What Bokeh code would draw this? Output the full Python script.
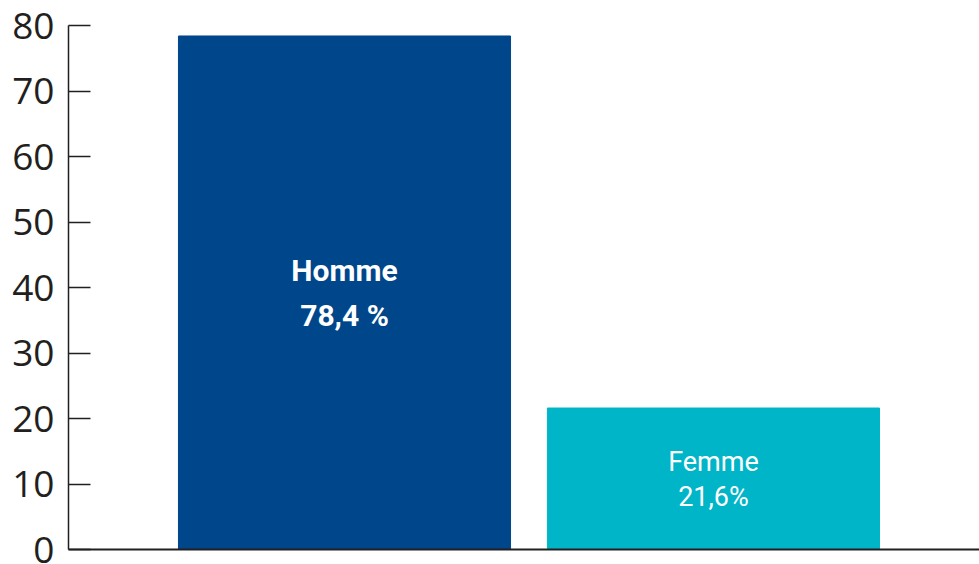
from bokeh.plotting import figure
from bokeh.models import ColumnDataSource, FixedTicker, Range1d
from bokeh.core.properties import value
from bokeh.embed import file_html
from bokeh.resources import INLINE

categories = ["Homme", "Femme"]
percent = [78.4, 21.6]
labels_pct = ["78,4 %", "21,6%"]
colors = ["#00468A", "#00B5C7"]
y_ticks = [0, 10, 20, 30, 40, 50, 60, 70, 80]

xs = [1, 2]
src = ColumnDataSource(dict(x=xs, top=percent, color=colors))

p = figure(width=979, height=564, output_backend="svg", toolbar_location=None,
           x_range=Range1d(0.252, 2.721), y_range=Range1d(0, 80),
           min_border_left=68, min_border_right=0, min_border_top=25, min_border_bottom=15)
p.outline_line_color = None
p.grid.visible = False
p.background_fill_color = "white"

p.vbar(x="x", top="top", width=0.9, bottom=0, color="color", source=src)

hs = ColumnDataSource(dict(x=[xs[0]], y=[percent[0] / 2], a=[categories[0]], b=[labels_pct[0]]))
fs = ColumnDataSource(dict(x=[xs[1]], y=[percent[1] / 2], a=[categories[1]], b=[labels_pct[1]]))
lbl_font = value("Roboto")
p.text(x="x", y="y", text="a", source=hs, text_font=lbl_font, text_font_style="bold",
       text_font_size="30px", text_color="white", text_align="center",
       text_baseline="middle", y_offset=-22)
p.text(x="x", y="y", text="b", source=hs, text_font=lbl_font, text_font_style="bold",
       text_font_size="30px", text_color="white", text_align="center",
       text_baseline="middle", y_offset=23)
p.text(x="x", y="y", text="a", source=fs, text_font=lbl_font,
       text_font_size="27px", text_color="white", text_align="center",
       text_baseline="middle", y_offset=-17)
p.text(x="x", y="y", text="b", source=fs, text_font=lbl_font,
       text_font_size="27px", text_color="white", text_align="center",
       text_baseline="middle", y_offset=18)

ya = p.yaxis[0]
ya.ticker = FixedTicker(ticks=y_ticks)
ya.major_tick_in = 22
ya.major_tick_out = 0
ya.minor_tick_line_color = None
ya.axis_line_color = "#231f20"
ya.axis_line_width = 1.5
ya.major_tick_line_color = "#231f20"
ya.major_tick_line_width = 1.5
ya.major_label_text_font = "Open Sans"
ya.major_label_text_font_size = "37px"
ya.major_label_text_color = "#231f20"
ya.major_label_standoff = 14

xa = p.xaxis[0]
xa.ticker = FixedTicker(ticks=[])
xa.major_label_text_font_size = "0px"
xa.major_tick_line_color = None
xa.minor_tick_line_color = None
xa.axis_line_color = "#231f20"
xa.axis_line_width = 2

open("out.html", "w").write(file_html(p, INLINE))
